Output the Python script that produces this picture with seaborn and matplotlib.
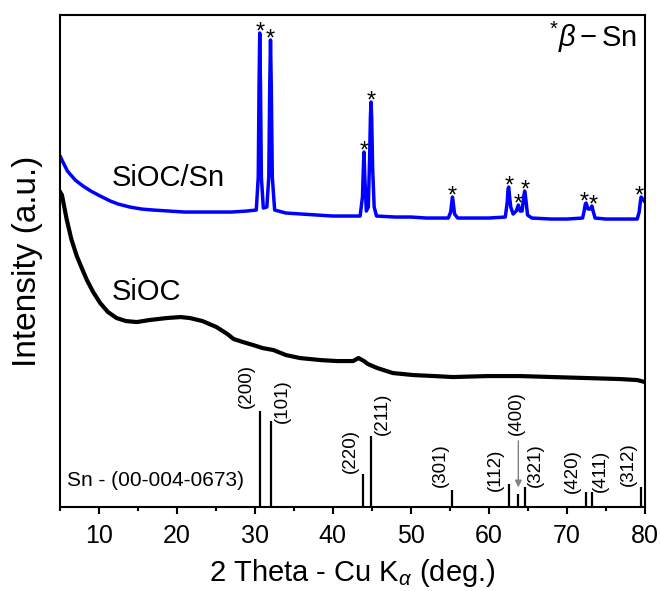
import numpy as np
import pandas as pd
import matplotlib
matplotlib.use('Agg')
import matplotlib.pyplot as plt
import seaborn as sns

# SiOC/Sn pattern (2theta, intensity a.u.)
siocsn_x = [5.0, 5.3, 6.0, 7.0, 8.0, 9.0, 10.2, 11.5, 12.5, 14.0, 15.5, 17.0, 19.0, 21.0, 23.0,
            25.0, 27.0, 29.0, 30.2, 30.45, 30.55, 30.64, 30.74, 30.85, 31.1, 31.55, 31.8, 31.92,
            32.02, 32.12, 32.25, 32.55, 34.0, 36.0, 38.0, 40.0, 42.0, 43.5, 43.8, 43.92, 44.0,
            44.1, 44.3, 44.55, 44.72, 44.82, 44.9, 44.98, 45.1, 45.3, 45.6, 48.0, 50.0, 52.0,
            54.8, 55.1, 55.25, 55.33, 55.42, 55.6, 56.0, 58.0, 60.0, 62.1, 62.35, 62.45, 62.54,
            62.65, 62.8, 63.1, 63.5, 63.77, 64.0, 64.25, 64.45, 64.58, 64.7, 64.95, 65.5, 68.0,
            70.0, 72.0, 72.2, 72.35, 72.45, 72.7, 73.0, 73.19, 73.35, 73.6, 75.0, 77.0, 79.0,
            79.25, 79.4, 79.5, 80.0]
siocsn_y = [352, 347, 336, 327, 321, 316, 311, 306, 303, 300, 298, 297, 296, 295, 295,
            295, 295, 296, 297, 330, 420, 474, 420, 330, 299, 300, 330, 420,
            467, 420, 330, 297, 294, 293, 292, 291, 291, 291, 310, 340, 355,
            330, 296, 300, 350, 390, 405, 390, 340, 300, 291, 290, 290, 289,
            289, 295, 305, 310, 305, 293, 289, 289, 289, 290, 305, 318, 320,
            310, 300, 293, 296, 302, 296, 296, 310, 316, 310, 292, 289, 288,
            288, 289, 296, 303, 304, 298, 298, 301, 296, 289, 288, 288, 288,
            295, 305, 310, 305]

# SiOC pattern
sioc_x = [5.0, 5.3, 5.9, 6.5, 7.2, 8.0, 8.5, 9.3, 10.2, 11.2, 12.3, 13.5, 14.9, 16.5, 18.7,
          20.5, 21.7, 23.3, 25.1, 26.5, 27.3, 28.5, 29.8, 31.0, 32.4, 34.0, 35.8, 38.4, 40.5,
          42.6, 43.3, 44.0, 44.5, 45.7, 47.7, 50.3, 53.0, 55.4, 59.8, 64.0, 68.2, 72.6, 76.8,
          79.0, 80.0]
sioc_y = [316, 312, 288, 268, 251, 236, 227, 215, 204, 195, 189, 186, 185, 187, 189,
          190, 189, 186, 180, 173, 168, 165, 162, 159, 157, 152, 149, 147, 146,
          146, 149, 146, 143, 139, 134, 132, 131, 130, 131, 131, 130, 129, 128,
          127, 125]

# beta-Sn reference card 00-004-0673
ref_pos = [30.64, 32.02, 43.87, 44.90, 55.33, 62.54, 63.77, 64.58, 72.41, 73.19, 79.47]
ref_height = [96, 86, 33, 71, 17, 23, 13, 20, 15, 15, 20]
ref_hkl = ['(200)', '(101)', '(220)', '(211)', '(301)', '(112)', '(400)', '(321)',
           '(420)', '(411)', '(312)']

# peaks marked with *
star_x = [30.64, 32.02, 44.0, 44.9, 55.33, 62.54, 63.7, 64.65, 72.25, 73.3, 79.3]
star_y = [474, 467, 355, 405, 310, 320, 302, 316, 304, 301, 310]

xticks = [10, 20, 30, 40, 50, 60, 70, 80]

# label anchors for the hkl text (x centre, bottom)
hkl_anchor = [(28.9, 99), (33.6, 84), (42.2, 34), (46.3, 72), (53.8, 20), (60.8, 16),
              (63.5, 72), (65.9, 20), (70.65, 14), (74.3, 15), (77.9, 21)]

sns.set_theme(style='white')
plt.rcParams['font.family'] = ['Liberation Sans', 'DejaVu Sans']
plt.rcParams['mathtext.fontset'] = 'custom'
plt.rcParams['mathtext.rm'] = 'Liberation Sans'
plt.rcParams['mathtext.it'] = 'Liberation Sans:italic'
plt.rcParams['text.color'] = 'black'
plt.rcParams['axes.labelcolor'] = 'black'
plt.rcParams['xtick.color'] = 'black'

df_sn = pd.DataFrame({'x': siocsn_x, 'y': siocsn_y})
df_c = pd.DataFrame({'x': sioc_x, 'y': sioc_y})

fig = plt.figure(figsize=(6.6, 5.91), dpi=100)
ax = fig.add_axes([0.0903, 0.142, 0.887, 0.8326])

sns.lineplot(data=df_c, x='x', y='y', ax=ax, color='black', lw=3.0,
             estimator=None, sort=False)
sns.lineplot(data=df_sn, x='x', y='y', ax=ax, color='#0000FF', lw=2.5,
             estimator=None, sort=False)

# stick pattern
ax.vlines(ref_pos, 0, ref_height, color='black', lw=1.6)
for lab, (lx, ly) in zip(ref_hkl, hkl_anchor):
    ax.text(lx, ly, lab, rotation=90, ha='center', va='bottom', fontsize=13.5)
ax.annotate('', xy=(63.77, 17), xytext=(63.77, 69),
            arrowprops=dict(arrowstyle='-|>', color='gray', lw=1, mutation_scale=10))

for sx, sy in zip(star_x, star_y):
    ax.annotate('*', xy=(sx, sy), xytext=(0, -4), textcoords='offset points',
                ha='center', va='baseline', fontsize=17)

ax.text(11.7, 329, 'SiOC/Sn', fontsize=21, ha='left', va='center')
ax.text(11.7, 215, 'SiOC', fontsize=21, ha='left', va='center')
ax.text(0.012, 0.055, 'Sn - (00-004-0673)', transform=ax.transAxes, fontsize=15,
        ha='left', va='center')
ax.text(0.987, 0.955, r'$^{*}\beta-$Sn', transform=ax.transAxes, fontsize=21,
        ha='right', va='center')

ax.set_xlim(5, 80)
ax.set_ylim(0, 492)
ax.set_xticks(xticks)
ax.set_xticks(np.arange(5, 80, 10), minor=True)
ax.set_yticks([])
ax.tick_params(axis='x', which='major', direction='out', length=5, width=1.5,
               labelsize=18, pad=7, bottom=True)
ax.tick_params(axis='x', which='minor', direction='out', length=3, width=1.5, bottom=True)
for sp in ax.spines.values():
    sp.set_linewidth(1.5)
    sp.set_color('black')

ax.set_xlabel(r'2 Theta - Cu K$_{\alpha}$ (deg.)', fontsize=21, labelpad=7)
ax.set_ylabel('Intensity (a.u.)', fontsize=24, labelpad=12)

fig.savefig('out.png', dpi=100)
